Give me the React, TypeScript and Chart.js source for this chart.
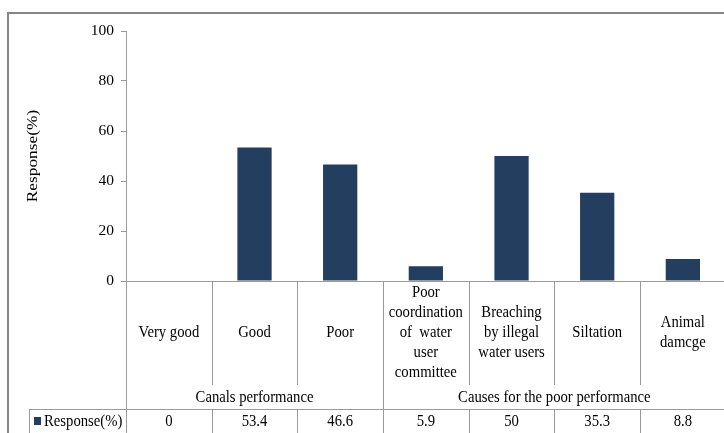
import React, { useEffect, useRef } from "react";
import { Chart, registerables } from "chart.js";

Chart.register(...registerables);

// Category labels (one entry per line of text under each bar)
const categoryLines: string[][] = [
  ["Very good"],
  ["Good"],
  ["Poor"],
  ["Poor", "coordination", "of  water", "user", "committee"],
  ["Breaching", "by illegal", "water users"],
  ["Siltation"],
  ["Animal", "damcge"],
];

// Group headings and how many categories each spans
const groupNames: string[] = ["Canals performance", "Causes for the poor performance"];
const groupSizes: number[] = [3, 4];

const seriesName = "Response(%)";
const responses: number[] = [0, 53.4, 46.6, 5.9, 50, 35.3, 8.8];
const valueLabels: string[] = ["0", "53.4", "46.6", "5.9", "50", "35.3", "8.8"];

const axisTitle = "Response(%)";
const yMin = 0;
const yMax = 100;
const yStep = 20;

const W = 730;
const H = 440;
const SERIF = "'Liberation Serif', 'Times New Roman', serif";
const BAR = "#243e5f";
const LINE = "#9a9a9a";
const FRAME = "#858585";
const TEXT = "#000000";
const STRETCH = 1.18;

function stretchedText(
  ctx: CanvasRenderingContext2D,
  text: string,
  x: number,
  y: number,
  align: CanvasTextAlign = "center"
) {
  ctx.save();
  ctx.translate(x, y);
  ctx.scale(1, STRETCH);
  ctx.textAlign = align;
  ctx.textBaseline = "middle";
  ctx.fillText(text, 0, 0);
  ctx.restore();
}

const tablePlugin = {
  id: "dataTable",
  afterDraw(chart: any) {
    const { ctx, chartArea: a, scales } = chart;
    const y = scales.y;
    const n = responses.length;
    const cw = (a.right - a.left) / n;
    const edge = (i: number) => a.left + i * cw;
    const base = y.getPixelForValue(0);

    const innerEnd = base + 104;
    const rowTop = base + 128;
    const groupMid = base + 116;
    const valueMid = base + 140;
    const labelMid = base + 51.5;
    const lineH = 19.8;

    ctx.save();

    // outer frame
    ctx.strokeStyle = FRAME;
    ctx.lineWidth = 2;
    ctx.strokeRect(8, 13, W, H);

    ctx.strokeStyle = LINE;
    ctx.lineWidth = 1;
    const hLine = (x0: number, x1: number, yy: number) => {
      ctx.beginPath();
      ctx.moveTo(x0, Math.round(yy) + 0.5);
      ctx.lineTo(x1, Math.round(yy) + 0.5);
      ctx.stroke();
    };
    const vLine = (xx: number, y0: number, y1: number) => {
      ctx.beginPath();
      ctx.moveTo(Math.round(xx) + 0.5, y0);
      ctx.lineTo(Math.round(xx) + 0.5, y1);
      ctx.stroke();
    };

    // category axis baseline
    hLine(a.left, W, base);

    // group boundaries
    const groupEdges: number[] = [0];
    groupSizes.forEach((s) => groupEdges.push(groupEdges[groupEdges.length - 1] + s));

    for (let i = 0; i <= n; i++) {
      const isGroupEdge = groupEdges.includes(i);
      vLine(edge(i), base, isGroupEdge ? H : innerEnd);
      if (!isGroupEdge) vLine(edge(i), rowTop, H);
    }

    // data row
    const rowLeft = 29;
    hLine(rowLeft, W, rowTop);
    vLine(rowLeft, rowTop, H);

    ctx.fillStyle = TEXT;
    ctx.font = `14.7px ${SERIF}`;

    // category labels
    categoryLines.forEach((lines, i) => {
      const cx = edge(i) + cw / 2;
      const start = labelMid - ((lines.length - 1) * lineH) / 2;
      lines.forEach((t, k) => stretchedText(ctx, t, cx, start + k * lineH));
    });

    // group labels
    groupNames.forEach((g, gi) => {
      const cx = (edge(groupEdges[gi]) + edge(groupEdges[gi + 1])) / 2;
      stretchedText(ctx, g, cx, groupMid);
    });

    // values row
    valueLabels.forEach((v, i) => {
      stretchedText(ctx, v, edge(i) + cw / 2, valueMid);
    });

    // legend key in the data row
    ctx.fillStyle = BAR;
    ctx.fillRect(34, valueMid - 4, 7, 8);
    ctx.fillStyle = TEXT;
    stretchedText(ctx, seriesName, 44, valueMid, "left");

    // y axis title
    ctx.save();
    ctx.translate(33, (a.top + base) / 2);
    ctx.rotate(-Math.PI / 2);
    ctx.scale(STRETCH, 1);
    ctx.textAlign = "center";
    ctx.textBaseline = "middle";
    ctx.fillText(axisTitle, 0, 0);
    ctx.restore();

    ctx.restore();
  },
};

export default function App() {
  const ref = useRef<HTMLCanvasElement>(null);

  useEffect(() => {
    if (!ref.current) return;
    const chart = new Chart(ref.current, {
      type: "bar",
      data: {
        labels: categoryLines.map((l) => l.join(" ")),
        datasets: [
          {
            label: seriesName,
            data: responses,
            backgroundColor: BAR,
            barPercentage: 0.4,
            categoryPercentage: 1,
          },
        ],
      },
      options: {
        responsive: false,
        animation: false,
        devicePixelRatio: 1,
        layout: { padding: { left: 0, top: 31, right: W - 725.7, bottom: H - 281 } },
        plugins: { legend: { display: false }, tooltip: { enabled: false } },
        scales: {
          x: { display: false },
          y: {
            min: yMin,
            max: yMax,
            ticks: {
              stepSize: yStep,
              padding: 7,
              color: TEXT,
              font: { family: SERIF, size: 15.5 },
            },
            grid: { drawOnChartArea: false, tickLength: 5, color: LINE },
            border: { color: LINE },
            afterFit: (s: any) => {
              s.width = 126;
            },
          },
        },
      },
      plugins: [tablePlugin],
    });
    return () => chart.destroy();
  }, []);

  return (
    <div
      style={{
        position: "fixed",
        left: 0,
        top: 0,
        width: 724,
        height: 433,
        overflow: "hidden",
        background: "#fff",
      }}
    >
      <canvas ref={ref} width={W} height={H} style={{ display: "block" }} />
    </div>
  );
}
